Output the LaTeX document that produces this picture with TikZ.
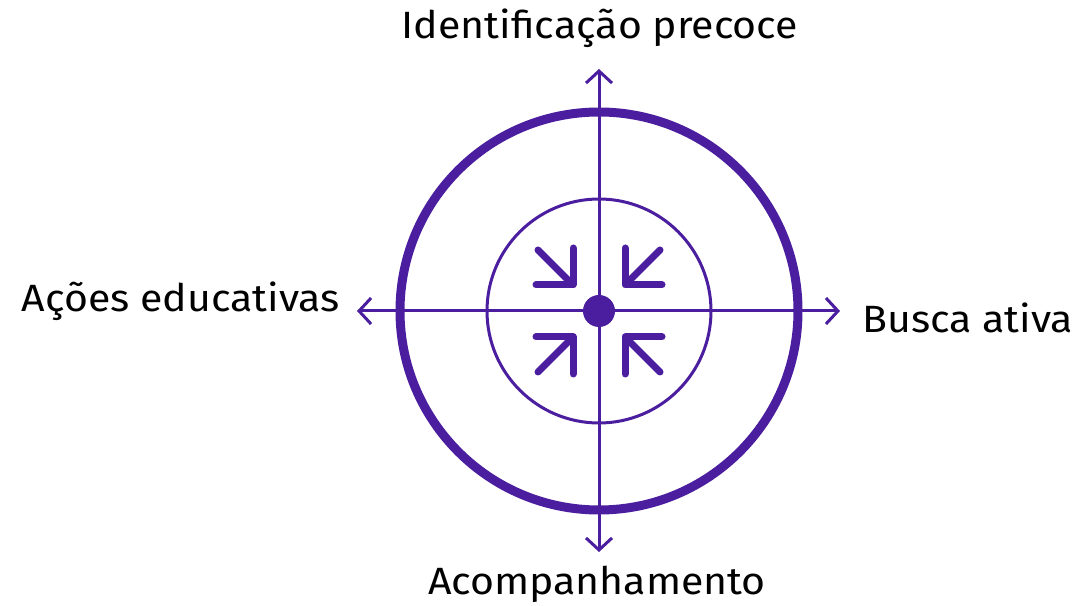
\documentclass[tikz,border=0pt]{standalone}
\usepackage{fontspec}
\setmainfont[FakeStretch=1.08]{Fira Sans}
\usetikzlibrary{arrows.meta,calc}
\definecolor{prp}{HTML}{4A1E9E}
\begin{document}
\begin{tikzpicture}[x=1pt,y=1pt,
  axisline/.style={draw=prp,line width=3pt,{Straight Barb[length=12pt,width=26pt,line width=3pt]}-{Straight Barb[length=12pt,width=26pt,line width=3pt]}},
  inarrow/.style={draw=prp,line width=7pt,line cap=round,line join=round},
  lbl/.style={font=\fontsize{38}{40}\selectfont,text=black,inner sep=0pt}]
\useasboundingbox (0,0) rectangle (1076,605);
\coordinate (c) at (599,294);
\coordinate (top) at (599,536);
\coordinate (bot) at (599,53);
\coordinate (lft) at (357,294);
\coordinate (rgt) at (840,294);
\draw[prp,line width=9pt] (c) circle[radius=199];
\draw[prp,line width=3pt] (c) circle[radius=112];
\draw[axisline] (bot) -- (top);
\draw[axisline] (lft) -- (rgt);
\fill[prp] (c) circle[radius=16];
% inward arrows
\draw[inarrow] ($(c)+(-63,26)$) -- ($(c)+(-26,26)$) -- ($(c)+(-26,63)$);
\draw[inarrow] ($(c)+(-61,61)$) -- ($(c)+(-28,28)$);
\draw[inarrow] ($(c)+(63,26)$) -- ($(c)+(26,26)$) -- ($(c)+(26,63)$);
\draw[inarrow] ($(c)+(61,61)$) -- ($(c)+(28,28)$);
\draw[inarrow] ($(c)+(-63,-26)$) -- ($(c)+(-26,-26)$) -- ($(c)+(-26,-63)$);
\draw[inarrow] ($(c)+(-61,-61)$) -- ($(c)+(-28,-28)$);
\draw[inarrow] ($(c)+(63,-26)$) -- ($(c)+(26,-26)$) -- ($(c)+(26,-63)$);
\draw[inarrow] ($(c)+(61,-61)$) -- ($(c)+(28,-28)$);
\node[lbl,anchor=base] (ltop) at (600,566) {Identificação precoce};
\node[lbl,anchor=base] (lbot) at (597,11) {Acompanhamento};
\node[lbl,anchor=base east] (llft) at (340,293) {Ações educativas};
\node[lbl,anchor=base west] (lrgt) at (862,272) {Busca ativa};
\end{tikzpicture}
\end{document}
